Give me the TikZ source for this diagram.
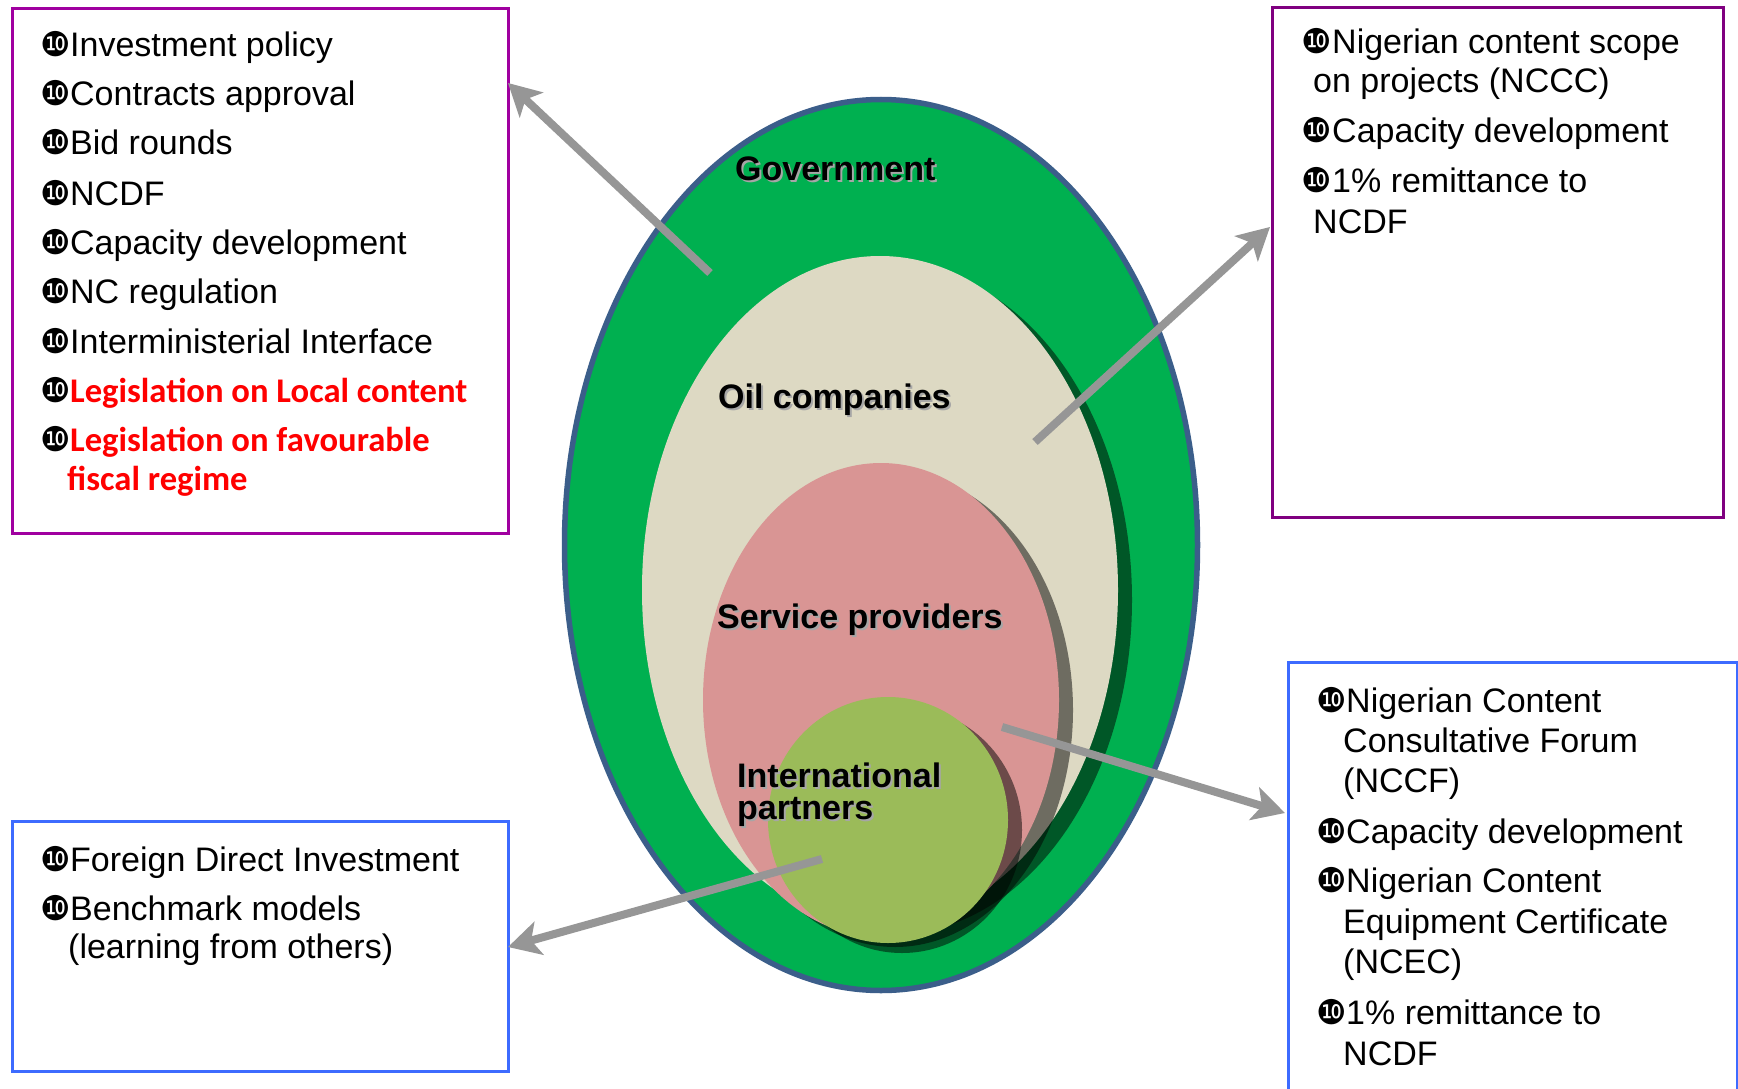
\documentclass[tikz,border=0pt]{standalone}
\usepackage{fontspec}
\setmainfont{Liberation Sans}
\newfontfamily\dejavu{DejaVu Sans}
\newfontfamily\carlito{Carlito}
\usetikzlibrary{shapes.geometric,shadows,arrows.meta}
\definecolor{govgreen}{RGB}{0,176,80}
\definecolor{govborder}{RGB}{59,94,138}
\definecolor{oilbeige}{RGB}{221,217,195}
\definecolor{servpink}{RGB}{217,149,148}
\definecolor{intlgreen}{RGB}{155,187,89}
\definecolor{arrgray}{RGB}{150,150,150}
\definecolor{boxpurpleA}{RGB}{160,0,160}
\definecolor{boxpurpleB}{RGB}{128,0,128}
\definecolor{boxblue}{RGB}{61,107,255}
\definecolor{legred}{RGB}{255,0,0}
\newcommand{\tenbul}{{\dejavu\fontsize{34}{34}\selectfont ❿}}
\newcommand{\shtext}[1]{\makebox[0pt][l]{\hspace{2pt}\raisebox{-2pt}{\textcolor{black!35}{#1}}}#1}
\begin{document}
\begin{tikzpicture}[x=1pt,y=-1pt,
  layer/.style={ellipse, inner sep=0pt, draw=none},
  shade/.style={drop shadow={shadow xshift=14pt, shadow yshift=-10pt, opacity=0.5, fill=black}},
  infobox/.style={rectangle, line width=3pt, inner sep=0pt, anchor=north west, fill=white},
  itemtxt/.style={anchor=base west, inner sep=0pt, font=\fontsize{34}{40}\selectfont},
  redtxt/.style={anchor=base west, inner sep=0pt, text=legred, font=\carlito\bfseries\fontsize{34.6}{40}\selectfont},
  bul/.style={anchor=base west, inner sep=0pt},
  lbl/.style={anchor=base west, inner sep=0pt, align=left, font=\bfseries\fontsize{34}{32}\selectfont},
  arr/.style={draw=arrgray, line width=8pt, -{Stealth[length=32pt,width=34pt,inset=8pt]}}
]
\useasboundingbox (0,0) rectangle (1738,1089);
\clip (0,0) rectangle (1738,1089);
\fill[white] (0,0) rectangle (1738,1089);

% nested ellipses
\node[layer, fill=govgreen, draw=govborder, line width=5.5pt, minimum width=633pt, minimum height=891pt] (gov) at (881,545) {};
\node[layer, shade, fill=oilbeige, minimum width=476pt, minimum height=668pt] (oil) at (880,590) {};
\node[layer, shade, fill=servpink, minimum width=356pt, minimum height=474pt] (serv) at (881,700) {};
\node[layer, shade, fill=intlgreen, minimum width=240pt, minimum height=246pt] (intl) at (888,820) {};

% labels
\node[lbl] (govL) at (735,180) {\shtext{Government}};
\node[lbl] (oilL) at (718,408) {\shtext{Oil companies}};
\node[lbl] (servL) at (717,628) {\shtext{Service providers}};
\node[lbl, anchor=north west] (intlL) at (737,763) {\shtext{International}\\\shtext{partners}};

% boxes
\node[infobox, draw=boxpurpleA, minimum width=496pt, minimum height=525pt] (lt) at (11,7) {};
\node[infobox, draw=boxpurpleB, minimum width=451pt, minimum height=510pt] (rt) at (1271,6) {};
\node[infobox, draw=boxblue, minimum width=449pt, minimum height=460pt] (rb) at (1287,661) {};
\node[infobox, draw=boxblue, minimum width=496pt, minimum height=250pt] (lb) at (11,820) {};

% left top box text
\node[bul] (lt1b) at (40,57) {\tenbul};   \node[itemtxt] (lt1) at (70,57) {Investment policy};
\node[bul] (lt2b) at (40,106) {\tenbul};  \node[itemtxt] (lt2) at (70,106) {Contracts approval};
\node[bul] (lt3b) at (40,155) {\tenbul};  \node[itemtxt] (lt3) at (70,155) {Bid rounds};
\node[bul] (lt4b) at (40,205) {\tenbul};  \node[itemtxt] (lt4) at (70,205) {NCDF};
\node[bul] (lt5b) at (40,254) {\tenbul};  \node[itemtxt] (lt5) at (70,254) {Capacity development};
\node[bul] (lt6b) at (40,303) {\tenbul};  \node[itemtxt] (lt6) at (70,303) {NC regulation};
\node[bul] (lt7b) at (40,353) {\tenbul};  \node[itemtxt] (lt7) at (70,353) {Interministerial Interface};
\node[bul] (lt8b) at (40,402) {\tenbul};  \node[redtxt] (lt8) at (70,402) {Legislation on Local content};
\node[bul] (lt9b) at (40,451) {\tenbul};  \node[redtxt] (lt9) at (70,451) {Legislation on favourable};
\node[redtxt] (lt10) at (67,490) {fiscal regime};

% right top box text
\node[bul] (rt1b) at (1301,54) {\tenbul};  \node[itemtxt] (rt1) at (1332,54) {Nigerian content scope};
\node[itemtxt] (rt2) at (1313,93) {on projects (NCCC)};
\node[bul] (rt3b) at (1301,143) {\tenbul}; \node[itemtxt] (rt3) at (1332,143) {Capacity development};
\node[bul] (rt4b) at (1301,193) {\tenbul}; \node[itemtxt] (rt4) at (1332,193) {1\% remittance to};
\node[itemtxt] (rt5) at (1313,233) {NCDF};

% right bottom box text
\node[bul] (rb1b) at (1316,712) {\tenbul};  \node[itemtxt] (rb1) at (1346,712) {Nigerian Content};
\node[itemtxt] (rb2) at (1343,752) {Consultative Forum};
\node[itemtxt] (rb3) at (1343,792) {(NCCF)};
\node[bul] (rb4b) at (1316,843) {\tenbul};  \node[itemtxt] (rb4) at (1346,843) {Capacity development};
\node[bul] (rb5b) at (1316,892) {\tenbul};  \node[itemtxt] (rb5) at (1346,892) {Nigerian Content};
\node[itemtxt] (rb6) at (1343,933) {Equipment Certificate};
\node[itemtxt] (rb7) at (1343,973) {(NCEC)};
\node[bul] (rb8b) at (1316,1024) {\tenbul}; \node[itemtxt] (rb8) at (1346,1024) {1\% remittance to};
\node[itemtxt] (rb9) at (1343,1065) {NCDF};

% left bottom box text
\node[bul] (lb1b) at (40,871) {\tenbul}; \node[itemtxt] (lb1) at (70,871) {Foreign Direct Investment};
\node[bul] (lb2b) at (40,920) {\tenbul}; \node[itemtxt] (lb2) at (70,920) {Benchmark models};
\node[itemtxt] (lb3) at (68,958) {(learning from others)};

% arrows
\coordinate (a1s) at (710,273); \coordinate (a1e) at (508,83);
\coordinate (a2s) at (1035,442); \coordinate (a2e) at (1270,227);
\coordinate (a3s) at (1002,727); \coordinate (a3e) at (1285,813);
\coordinate (a4s) at (822,859); \coordinate (a4e) at (508,947);
\draw[arr] (a1s) -- (a1e);
\draw[arr] (a2s) -- (a2e);
\draw[arr] (a3s) -- (a3e);
\draw[arr] (a4s) -- (a4e);
\end{tikzpicture}
\end{document}
